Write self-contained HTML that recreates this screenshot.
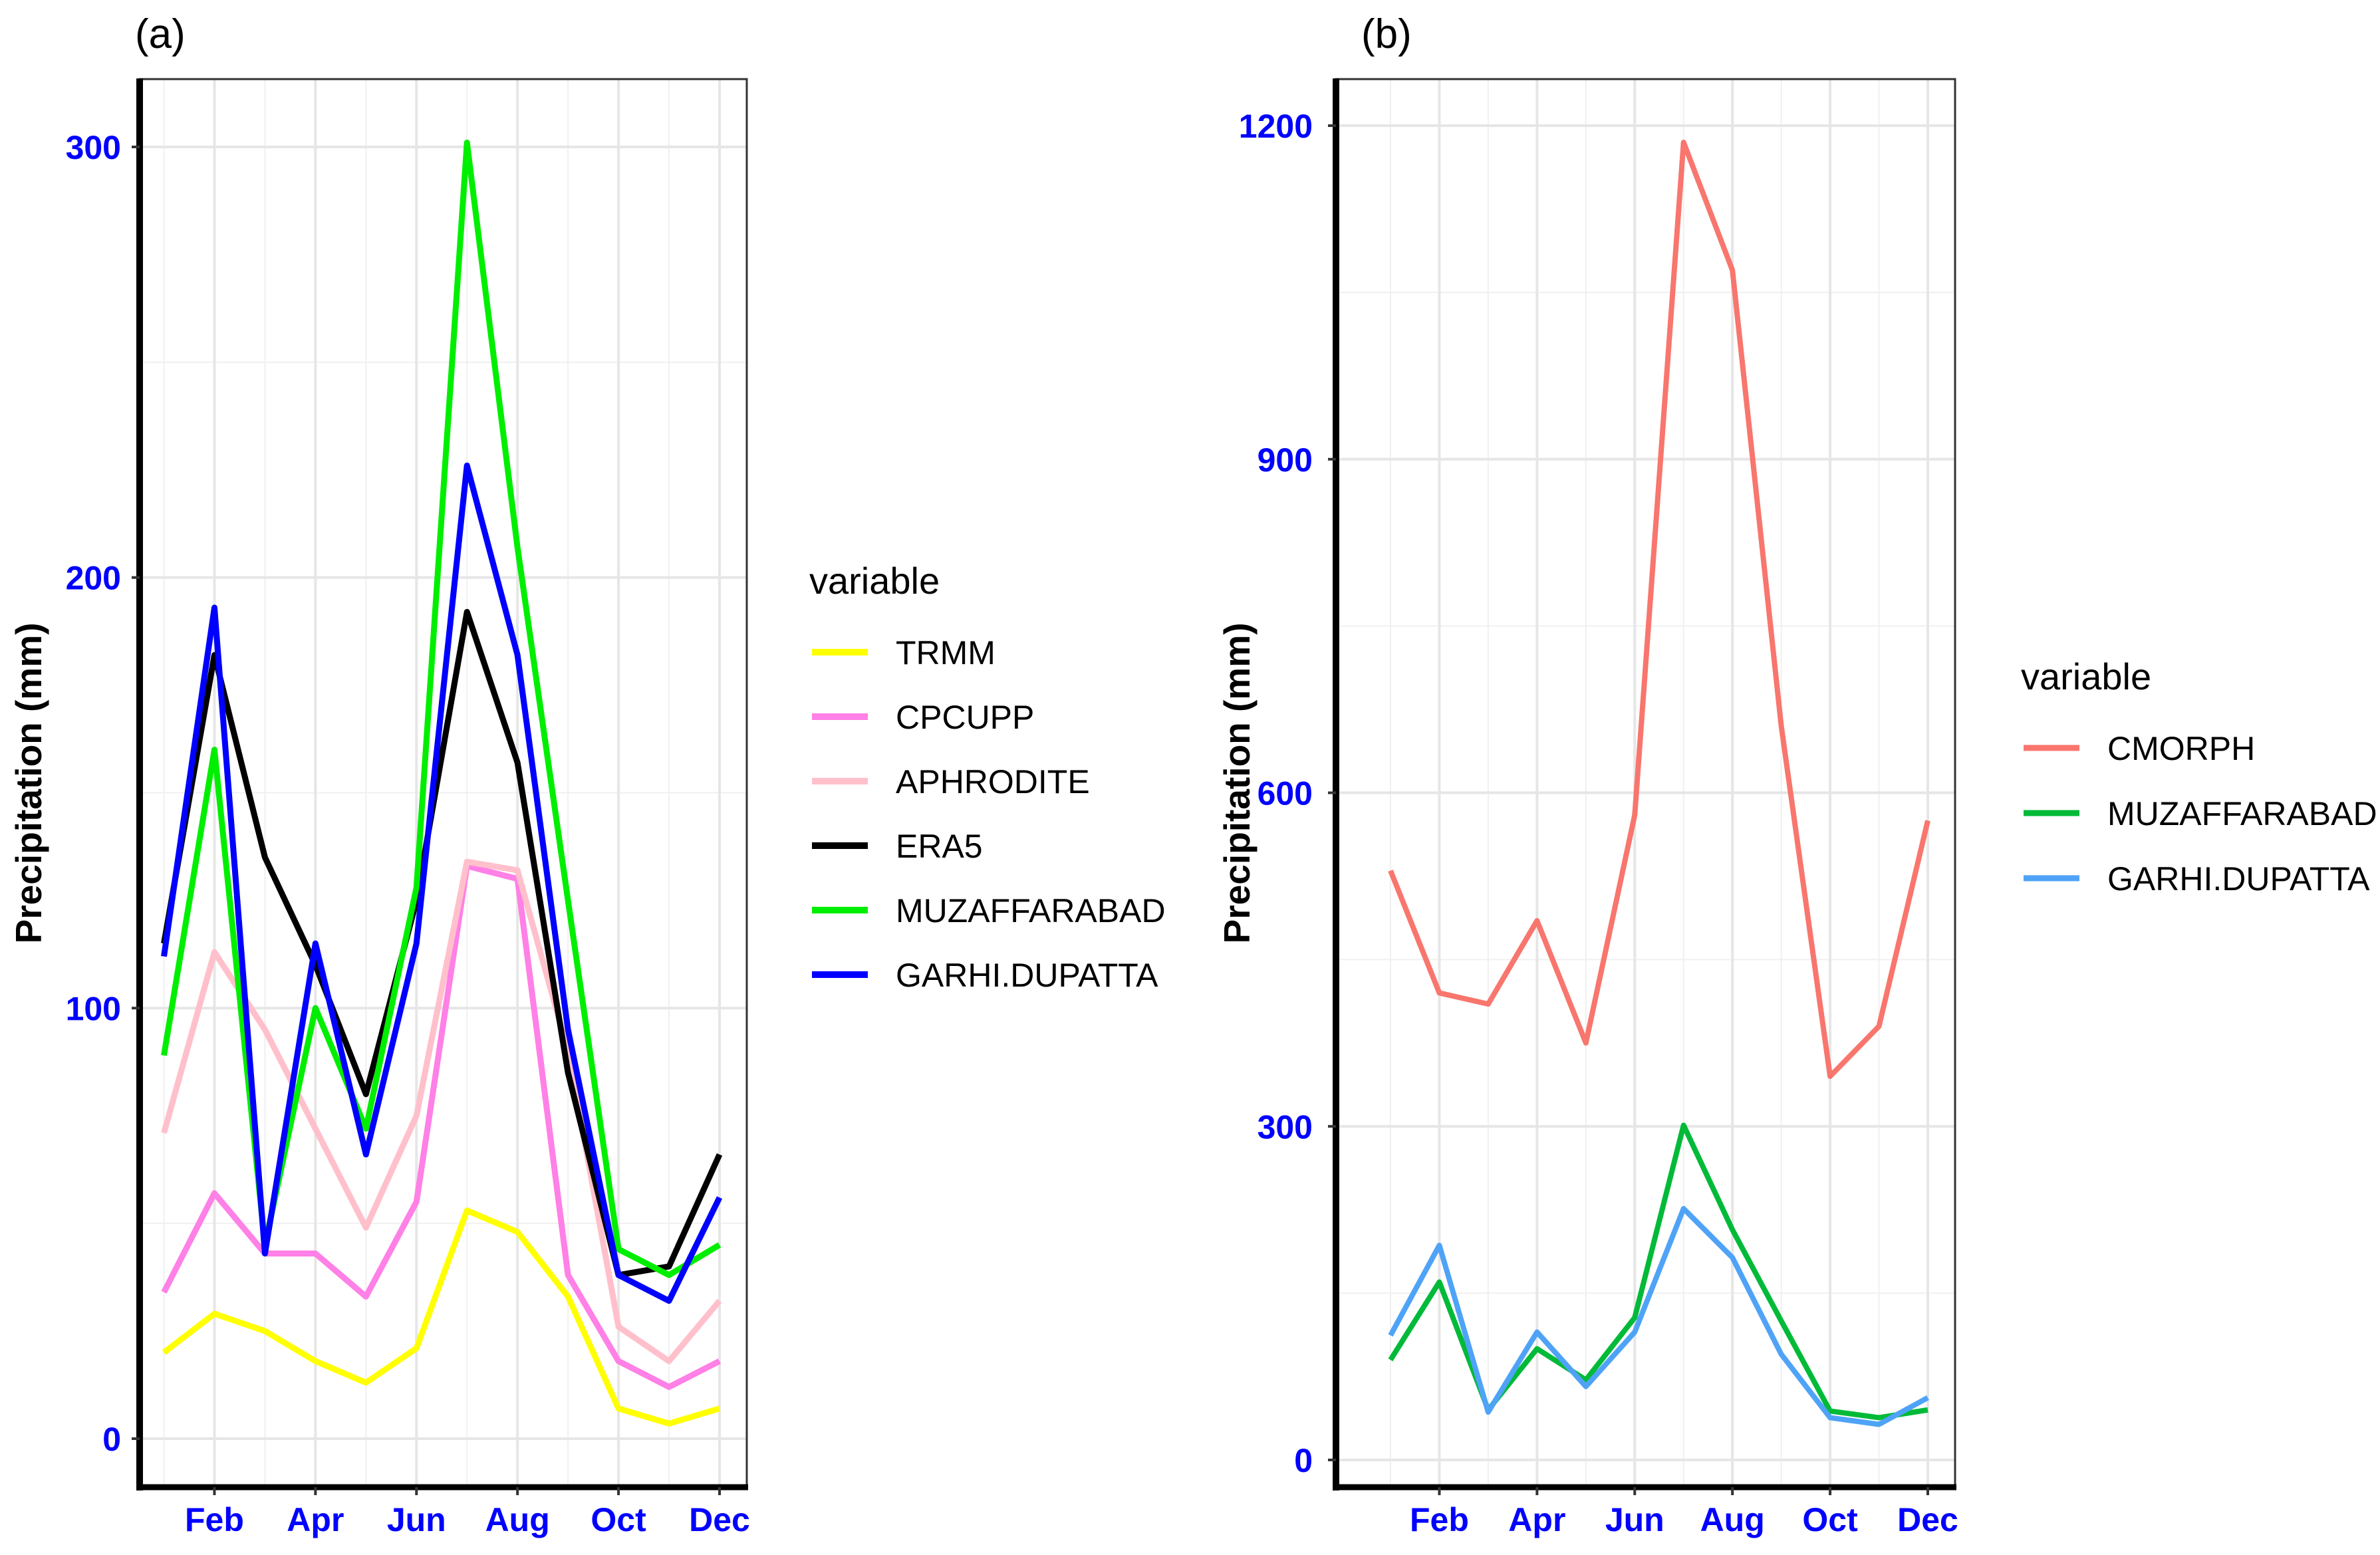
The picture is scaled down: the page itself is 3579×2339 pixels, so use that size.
<!DOCTYPE html>
<html><head><meta charset="utf-8"><style>
html,body{margin:0;padding:0;background:#fff;}
svg{display:block;font-family:"Liberation Sans",Arial,sans-serif;}
</style></head><body>
<svg id="chart" width="3579" height="2339" viewBox="0 0 3579 2339" xmlns="http://www.w3.org/2000/svg">
<rect width="3579" height="2339" fill="#fff"/>
<g id="pa"></g>
<g id="pb"></g>
</svg>
<script>
const months = ["Jan","Feb","Mar","Apr","May","Jun","Jul","Aug","Sep","Oct","Nov","Dec"];
const xTickLabels = ["Feb","Apr","Jun","Aug","Oct","Dec"];
const yTicksA = [0,100,200,300];
const yTicksB = [0,300,600,900,1200];
const seriesNamesA = ["TRMM","CPCUPP","APHRODITE","ERA5","MUZAFFARABAD","GARHI.DUPATTA"];
const trmm = [20,29,25,18,13,21,53,48,33,7,3.5,7];
const cpcupp = [34,57,43,43,33,55,133,130,38,18,12,18];
const aphrodite = [71,113,95,72,49,75,134,132,90,26,18,32];
const era5 = [115,182,135,110,80,125,192,157,85,38,40,66];
const muzaffarabad = [89,160,45,100,72,128,301,207,125,44,38,45];
const garhi = [112,193,43,115,66,115,226,182,95,38,32,56];
const seriesNamesB = ["CMORPH","MUZAFFARABAD","GARHI.DUPATTA"];
const cmorph = [530,420,410,485,375,580,1185,1070,660,345,390,575];
const muzB = [90,160,45,100,72,128,301,207,125,44,38,45];
const garhiB = [112,193,43,115,66,115,226,182,95,38,32,56];

const NS="http://www.w3.org/2000/svg";
function mk(parent,tag,attrs,text){const e=document.createElementNS(NS,tag);for(const k in attrs)e.setAttribute(k,attrs[k]);if(text!==undefined)e.textContent=text;parent.appendChild(e);return e;}

function panel(g,cfg){
  const {L,R,T,B,x0,x1,yv0,yv1,ymax,ticks,minor,series,names,colors,lw,lab,labX,titleX,tickLabX,legX,legTitleY,legY0,legStep}=cfg;
  const xs=i=>x0+i*(x1-x0)/11;
  const ys=v=>yv0-v*(yv0-yv1)/ymax;
  minor.forEach(v=>{const l=mk(g,'line',{x1:L,x2:R,y1:ys(v),y2:ys(v),stroke:'#f0f0f0','stroke-width':2});
    });
  months.forEach((m,i)=>{const maj=xTickLabels.includes(m);const l=mk(g,'line',{x1:xs(i),x2:xs(i),y1:T,y2:B,stroke:maj?'#e6e6e6':'#f0f0f0','stroke-width':maj?4:2});
    });
  ticks.forEach(v=>{const l=mk(g,'line',{x1:L,x2:R,y1:ys(v),y2:ys(v),stroke:'#e6e6e6','stroke-width':4});
    });
  const br=mk(g,'rect',{x:L,y:T,width:R-L,height:B-T,fill:'none',stroke:'#333','stroke-width':3});
  
  series.forEach((s,k)=>{const p=mk(g,'polyline',{points:s.map((v,i)=>xs(i)+','+ys(v)).join(' '),fill:'none',stroke:colors[k],'stroke-width':lw,'stroke-linejoin':'round'});
    });
  const ay=mk(g,'line',{x1:L,x2:L,y1:T-1,y2:B+5,stroke:'#000','stroke-width':10});
  
  const ax=mk(g,'line',{x1:L-5,x2:R+2,y1:B,y2:B,stroke:'#000','stroke-width':9});
  
  ticks.forEach(v=>{mk(g,'line',{x1:L-12,x2:L,y1:ys(v),y2:ys(v),stroke:'#333','stroke-width':4});
    const t=mk(g,'text',{x:tickLabX,y:ys(v)+18,'text-anchor':'end','font-size':50,'font-weight':'bold',fill:'#0000ff'},String(v));
    });
  months.forEach((m,i)=>{if(!xTickLabels.includes(m))return;
    mk(g,'line',{x1:xs(i),x2:xs(i),y1:B,y2:B+12,stroke:'#333','stroke-width':4});
    const t=mk(g,'text',{x:xs(i),y:B+66,'text-anchor':'middle','font-size':50,'font-weight':'bold',fill:'#0000ff'},m);
    });
  const yt=mk(g,'text',{x:0,y:0,transform:`translate(${titleX},${(T+B)/2}) rotate(-90)`,'text-anchor':'middle','font-size':55,'font-weight':'bold',fill:'#000'},'Precipitation (mm)');
  
  const pl=mk(g,'text',{x:labX,y:72,'font-size':62,fill:'#000'},lab);
  
  const lt=mk(g,'text',{x:legX-4,y:legTitleY,'font-size':56,fill:'#000'},'variable');
  
  names.forEach((n,k)=>{const y=legY0+k*legStep;
    const kk=mk(g,'line',{x1:legX,x2:legX+84,y1:y,y2:y,stroke:colors[k],'stroke-width':lw+1});
    
    const t=mk(g,'text',{x:legX+126,y:y+18,'font-size':50,fill:'#000'},n);
    });
}

panel(document.getElementById('pa'),{L:210,R:1123,T:119,B:2237,x0:246.5,x1:1082,yv0:2164,yv1:221,ymax:300,
  ticks:yTicksA,minor:[50,150,250],series:[trmm,cpcupp,aphrodite,era5,muzaffarabad,garhi],names:seriesNamesA,
  colors:['#ffff00','#ff80e6','#ffc0cb','#000000','#00ee00','#0000ff'],lw:9,lab:'(a)',labX:203,titleX:62,tickLabX:182,
  legX:1221,legTitleY:893,legY0:981,legStep:97});
panel(document.getElementById('pb'),{L:2009,R:2940,T:119,B:2237,x0:2091,x1:2899,yv0:2196,yv1:189,ymax:1200,
  ticks:yTicksB,minor:[150,450,750,1050],series:[cmorph,muzB,garhiB],names:seriesNamesB,
  colors:['#f8766d','#00ba38','#4fa3f7'],lw:8,lab:'(b)',labX:2047,titleX:1879,tickLabX:1974,
  legX:3043,legTitleY:1037,legY0:1125,legStep:98});
</script>
</body></html>
